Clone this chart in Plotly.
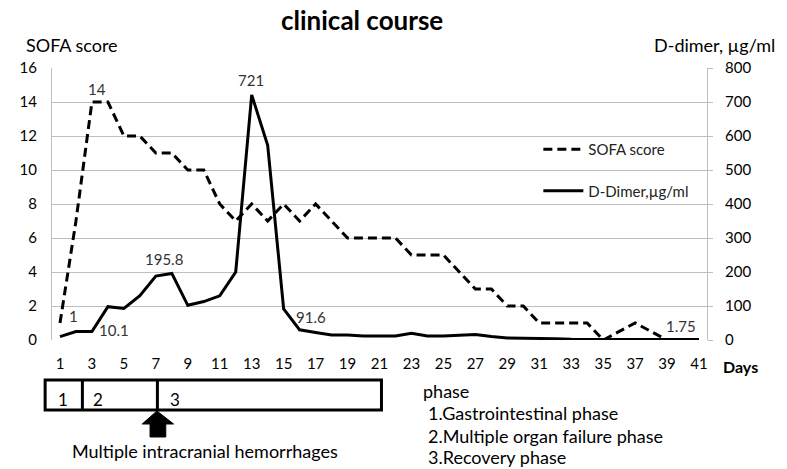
import plotly.graph_objects as go

# data
days = list(range(1, 42))
sofa = [1, 7, 14, 14, 12, 12, 11, 11, 10, 10, 8, 7, 8, 7, 8, 7, 8, 7, 6, 6,
        6, 6, 5, 5, 5, 4, 3, 3, 2, 2, 1, 1, 1, 1, 0, 0.5, 1, 0.5, 0]
ddimer = [10.1, 25, 25, 98, 93, 130, 188, 195.8, 102, 113, 130, 200, 721, 573, 91.6,
          30, 22, 15, 15, 12, 12, 12, 20, 12, 12, 14, 16, 10, 6, 5, 5, 4, 2, 1.75,
          1.75, 1.75, 1.75, 1.75, 1.75, 1.75, 1.75]
odd_days = list(range(1, 42, 2))
phase_notes = ["phase", "1.Gastrointestinal phase", "2.Multiple organ failure phase", "3.Recovery phase"]

FONT = "Lato"
GRID = "#bfbfbf"

# where the figure lands on the page (measured from earlier renders)
OFFX, OFFY = 14, 8
W, H = 787 - OFFX, 469 - OFFY
# plot area in screen pixels (used to place the bits around the chart)
L, R, T, B = 45, 713, 68, 340


def px(x):
    return (x - L) / (R - L)


def py(y):
    return (B - y) / (B - T)


def note(x, y, text, size=18, xa="center", **kw):
    fig.add_annotation(x=px(x), y=py(y), xref="paper", yref="paper", text=text,
                       showarrow=False, xanchor=xa, yanchor="middle",
                       font=dict(size=size, color="black"), **kw)


fig = go.Figure()
fig.add_trace(go.Scatter(x=days[:len(sofa)], y=sofa, name="SOFA score", mode="lines",
                         line=dict(color="black", width=3, dash="9px,5px"), legendgroup="a"))
fig.add_trace(go.Scatter(x=days, y=ddimer, name="D-Dimer,µg/ml", mode="lines", yaxis="y2",
                         line=dict(color="black", width=3), legendgroup="b"))

# value labels
labels = [
    (1, sofa[0], "y", "1", 14, 7),
    (3, sofa[2], "y", "14", 5, 13),
    (1, ddimer[0], "y2", "10.1", 54, 7),
    (8, ddimer[7], "y2", "195.8", -8, 14),
    (13, ddimer[12], "y2", "721", -1, 15),
    (15, ddimer[14], "y2", "91.6", 27, -8),
    (41, ddimer[40], "y2", "1.75", -18, 13),
]
for d, v, yr, t, xs, ys in labels:
    fig.add_annotation(x=d, y=v, xref="x", yref=yr, text=t, showarrow=False,
                       xshift=xs, yshift=ys, font=dict(size=15, color="#333"))

# titles
note(361, 20, "<b>clinical course</b>", size=26)
note(16, 45, "SOFA score", size=18, xa="left")
note(784, 45, "D-dimer, µg/ml", size=18, xa="right")
note(727, 366, "<b>Days</b>", size=16, xa="left")

# phase box
shapes = [
    dict(type="rect", x0=px(38), x1=px(381), y0=py(410), y1=py(380)),
    dict(type="line", x0=px(76), x1=px(76), y0=py(410), y1=py(380)),
    dict(type="line", x0=px(152.5), x1=px(152.5), y0=py(410), y1=py(380)),
]
for s in shapes:
    fig.add_shape(xref="paper", yref="paper", line=dict(color="black", width=3), **s)

arrow = [(152, 411), (169, 424), (161, 424), (161, 437), (145, 437), (145, 424), (137, 424)]
path = "M " + " L ".join(f"{px(a):.4f},{py(b):.4f}" for a, b in arrow) + " Z"
fig.add_shape(type="path", path=path, xref="paper", yref="paper",
              fillcolor="black", line=dict(color="black", width=1))

for t, x in [("1", 56), ("2", 92), ("3", 170)]:
    note(x, 399, t, size=17)

note(201, 451, "Multiple intracranial hemorrhages")

for i, (t, y) in enumerate(zip(phase_notes, [391, 413, 436, 457])):
    note(421 if i == 0 else 426, y, t, xa="left")

fig.update_layout(
    width=W, height=H,
    margin=dict(l=L - OFFX, r=W - (R - OFFX), t=T - OFFY, b=H - (B - OFFY)),
    paper_bgcolor="white", plot_bgcolor="white",
    font=dict(family=FONT, size=15, color="black"),
    showlegend=True,
    legend=dict(x=px(541), y=py(133), xanchor="left", yanchor="top",
                bgcolor="rgba(0,0,0,0)", font=dict(size=15, color="#222"),
                tracegroupgap=19, itemwidth=40),
    xaxis=dict(range=[0.5, 41.5], tickvals=odd_days, showgrid=False, showline=False,
               zeroline=False, ticks="", ticklabelstandoff=13, tickfont=dict(size=15)),
    yaxis=dict(range=[0, 16], dtick=2, showgrid=True, gridcolor=GRID, gridwidth=1,
               showline=True, linecolor=GRID, linewidth=1, zeroline=False, ticks="",
               ticklabelstandoff=11, tickfont=dict(size=15)),
    yaxis2=dict(range=[0, 800], dtick=100, overlaying="y", side="right", showgrid=False,
                showline=True, linecolor=GRID, linewidth=1, zeroline=False,
                ticks="outside", ticklen=5, tickcolor=GRID, ticklabelstandoff=9,
                tickfont=dict(size=15)),
)

fig.write_html("out.html")
